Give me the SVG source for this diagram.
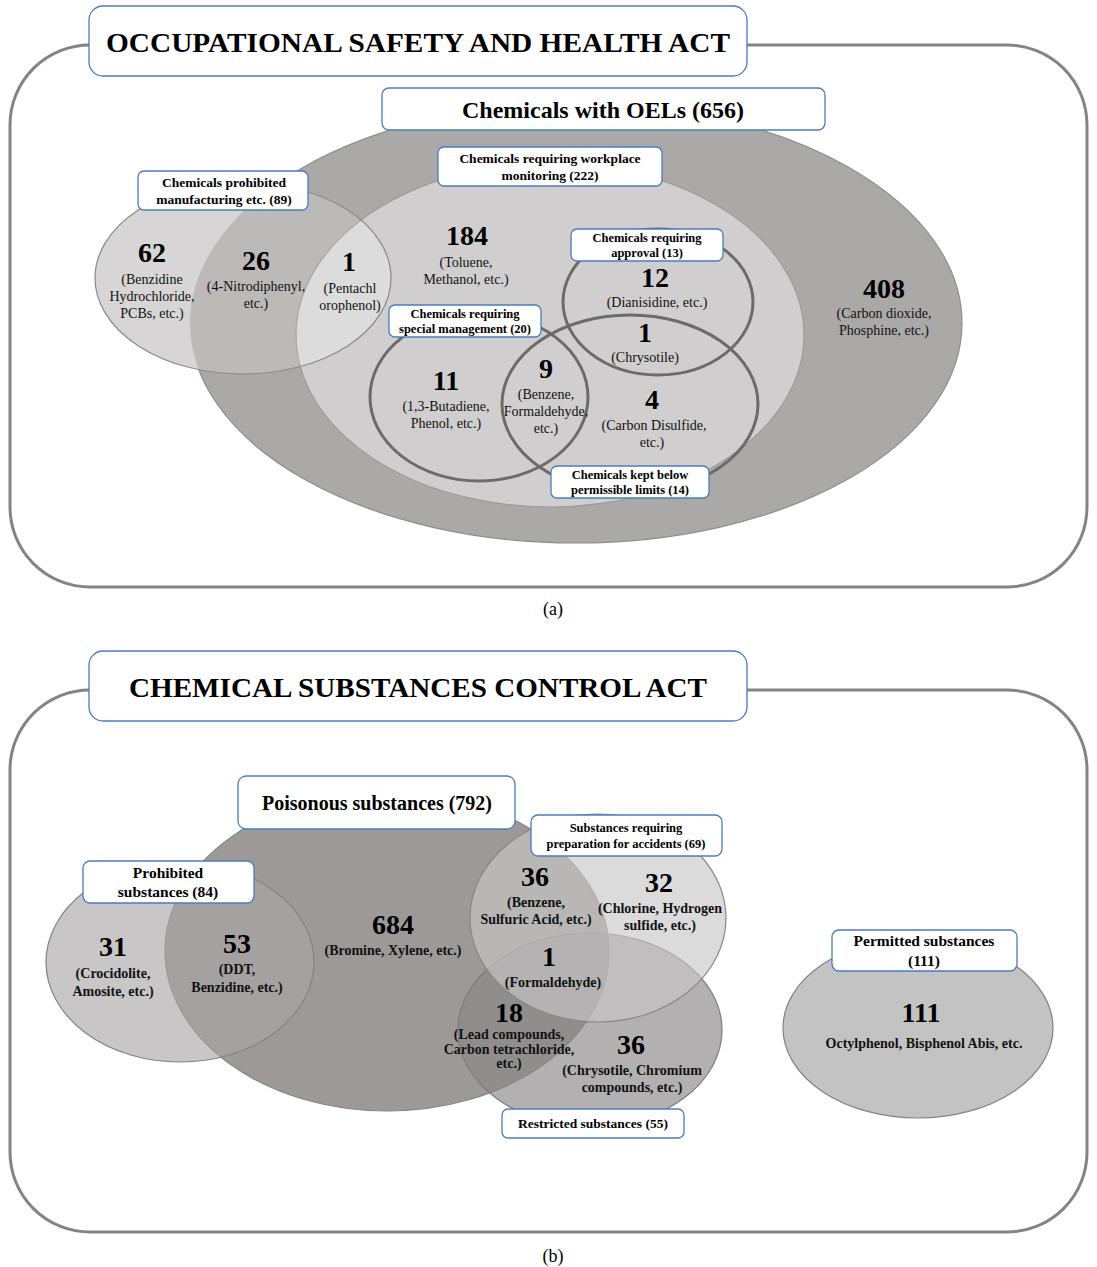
<svg xmlns="http://www.w3.org/2000/svg" width="1097" height="1267" viewBox="0 0 1097 1267">
<style>
.frame{fill:none;stroke:#858383;stroke-width:3}
.box{fill:#fff;stroke:#4a7ebb;stroke-width:1.3}
.ttl{font-family:"Liberation Serif",serif;font-weight:bold;fill:#000;text-anchor:middle}
.lbl{font-family:"Liberation Serif",serif;font-weight:bold;fill:#000;text-anchor:middle}
.num{font-family:"Liberation Serif",serif;font-weight:bold;font-size:28px;fill:#000;text-anchor:middle}
.txt{font-family:"Liberation Serif",serif;font-size:14px;fill:#111;text-anchor:middle}
.btxt{font-family:"Liberation Serif",serif;font-weight:bold;font-size:14px;fill:#111;text-anchor:middle}
.ring{fill:none;stroke:#6d6a6a;stroke-width:3}
.cap{font-family:"Liberation Serif",serif;font-size:18px;fill:#000;text-anchor:middle}
</style>
<defs>
<clipPath id="clipProhA"><ellipse cx="243" cy="278" rx="148" ry="96"/></clipPath>
</defs>

<!-- ===== Panel (a) ===== -->
<g id="panelA">
<rect id="frameA" class="frame" x="10" y="45" width="1077" height="542" rx="80" ry="80"/>
<g id="oels">
<ellipse cx="576" cy="323" rx="386" ry="220" fill="#aba8a8" stroke="#8f8c8c" stroke-width="1.2"/>
</g>
<g id="monitoring">
<ellipse cx="550" cy="335" rx="254" ry="172" fill="#d0cece" stroke="#9e9b9b" stroke-width="1.2"/>
</g>
<g id="prohibitedMfg">
<ellipse cx="243" cy="278" rx="148" ry="96" fill="#d7d5d5"/>
<g clip-path="url(#clipProhA)">
<ellipse cx="576" cy="323" rx="386" ry="220" fill="#bcb9b9"/>
<ellipse cx="550" cy="335" rx="254" ry="172" fill="#dddcdc" stroke="#a8a5a5" stroke-width="1.2"/>
</g>
<ellipse cx="243" cy="278" rx="148" ry="96" fill="none" stroke="#8c8989" stroke-width="1.2"/>
</g>
<g id="special"><ellipse class="ring" cx="479" cy="397" rx="109" ry="84"/></g>
<g id="approval"><ellipse class="ring" cx="658" cy="302" rx="95" ry="73"/></g>
<g id="limits"><ellipse class="ring" cx="630" cy="404" rx="128" ry="89"/></g>

<g id="titleA">
<rect class="box" x="89" y="6" width="658" height="70" rx="14"/>
<text class="ttl" x="418" y="52" font-size="28" textLength="624" lengthAdjust="spacingAndGlyphs">OCCUPATIONAL SAFETY AND HEALTH ACT</text>
</g>
<g id="labelOels">
<rect class="box" x="382" y="88" width="443" height="42" rx="7"/>
<text class="lbl" x="603" y="118" font-size="24">Chemicals with OELs (656)</text>
</g>
<g id="labelMonitoring">
<rect class="box" x="438" y="147" width="224" height="39" rx="6"/>
<text class="lbl" x="550" y="163" font-size="13.5">Chemicals requiring workplace</text>
<text class="lbl" x="550" y="180" font-size="13.5">monitoring (222)</text>
</g>
<g id="labelProhMfg">
<rect class="box" x="138" y="171" width="170" height="39" rx="6"/>
<text class="lbl" x="224" y="187" font-size="13.5">Chemicals prohibited</text>
<text class="lbl" x="224" y="204" font-size="13.5">manufacturing etc. (89)</text>
</g>
<g id="labelApproval">
<rect class="box" x="571" y="229" width="152" height="32" rx="6"/>
<text class="lbl" x="647" y="242" font-size="12.5">Chemicals requiring</text>
<text class="lbl" x="647" y="257" font-size="12.5">approval (13)</text>
</g>
<g id="labelSpecial">
<rect class="box" x="389" y="305" width="152" height="32" rx="6"/>
<text class="lbl" x="465" y="318" font-size="12.5">Chemicals requiring</text>
<text class="lbl" x="465" y="333" font-size="12.5">special management (20)</text>
</g>
<g id="labelLimits">
<rect class="box" x="551" y="466" width="158" height="32" rx="6"/>
<text class="lbl" x="630" y="479" font-size="12.5">Chemicals kept below</text>
<text class="lbl" x="630" y="494" font-size="12.5">permissible limits (14)</text>
</g>

<g id="countsA">
<text class="num" x="152" y="262">62</text>
<text class="txt" x="152" y="284">(Benzidine</text>
<text class="txt" x="152" y="301">Hydrochloride,</text>
<text class="txt" x="152" y="318">PCBs, etc.)</text>
<text class="num" x="256" y="270">26</text>
<text class="txt" x="256" y="291">(4-Nitrodiphenyl,</text>
<text class="txt" x="256" y="308">etc.)</text>
<text class="num" x="349" y="271">1</text>
<text class="txt" x="350" y="293">(Pentachl</text>
<text class="txt" x="350" y="310">orophenol)</text>
<text class="num" x="467" y="245">184</text>
<text class="txt" x="466" y="267">(Toluene,</text>
<text class="txt" x="466" y="284">Methanol, etc.)</text>
<text class="num" x="655" y="287">12</text>
<text class="txt" x="657" y="307">(Dianisidine, etc.)</text>
<text class="num" x="645" y="342">1</text>
<text class="txt" x="645" y="362">(Chrysotile)</text>
<text class="num" x="884" y="298">408</text>
<text class="txt" x="884" y="318">(Carbon dioxide,</text>
<text class="txt" x="884" y="335">Phosphine, etc.)</text>
<text class="num" x="446" y="390">11</text>
<text class="txt" x="446" y="411">(1,3-Butadiene,</text>
<text class="txt" x="446" y="428">Phenol, etc.)</text>
<text class="num" x="546" y="378">9</text>
<text class="txt" x="546" y="399">(Benzene,</text>
<text class="txt" x="546" y="416">Formaldehyde,</text>
<text class="txt" x="546" y="433">etc.)</text>
<text class="num" x="652" y="409">4</text>
<text class="txt" x="654" y="430">(Carbon Disulfide,</text>
<text class="txt" x="652" y="447">etc.)</text>
</g>
<text class="cap" x="553" y="615">(a)</text>
</g>

<!-- ===== Panel (b) ===== -->
<g id="panelB">
<rect id="frameB" class="frame" x="10" y="690" width="1077" height="542" rx="80" ry="80"/>
<g id="poisonous">
<ellipse cx="387" cy="951" rx="222" ry="160" fill="#9d9999" stroke="#858282" stroke-width="1.2"/>
</g>
<g id="prohibitedB">
<ellipse cx="180" cy="962" rx="134" ry="100" fill="#a9a6a6" fill-opacity="0.64" stroke="#858282" stroke-width="1.2"/>
</g>
<g id="restricted">
<ellipse cx="590" cy="1030" rx="132" ry="97" fill="#8a8787" fill-opacity="0.66" stroke="#7e7b7b" stroke-width="1.2"/>
</g>
<g id="accidents">
<ellipse cx="598" cy="918" rx="128" ry="104" fill="#c8c6c6" fill-opacity="0.64" stroke="#8a8787" stroke-width="1.2"/>
</g>
<g id="permitted">
<ellipse cx="918" cy="1028" rx="135" ry="90" fill="#c3c3c3" stroke="#858282" stroke-width="1.2"/>
</g>

<g id="titleB">
<rect class="box" x="89" y="651" width="658" height="70" rx="14"/>
<text class="ttl" x="418" y="697" font-size="28" textLength="578" lengthAdjust="spacingAndGlyphs">CHEMICAL SUBSTANCES CONTROL ACT</text>
</g>
<g id="labelPoisonous">
<rect class="box" x="238" y="776" width="277" height="53" rx="8"/>
<text class="lbl" x="377" y="810" font-size="20">Poisonous substances (792)</text>
</g>
<g id="labelProhB">
<rect class="box" x="83" y="861" width="171" height="42" rx="7"/>
<text class="lbl" x="168" y="878" font-size="15.5">Prohibited</text>
<text class="lbl" x="168" y="897" font-size="15.5">substances (84)</text>
</g>
<g id="labelAccidents">
<rect class="box" x="531" y="815" width="191" height="41" rx="7"/>
<text class="lbl" x="626" y="832" font-size="12.5">Substances requiring</text>
<text class="lbl" x="626" y="848" font-size="12.5">preparation for accidents (69)</text>
</g>
<g id="labelRestricted">
<rect class="box" x="502" y="1109" width="182" height="29" rx="6"/>
<text class="lbl" x="593" y="1128" font-size="13.5">Restricted substances (55)</text>
</g>
<g id="labelPermitted">
<rect class="box" x="832" y="930" width="185" height="41" rx="7"/>
<text class="lbl" x="924" y="946" font-size="15.5">Permitted substances</text>
<text class="lbl" x="924" y="966" font-size="15.5">(111)</text>
</g>

<g id="countsB">
<text class="num" x="113" y="956">31</text>
<text class="btxt" x="113" y="978" font-size="13.5">(Crocidolite,</text>
<text class="btxt" x="113" y="996" font-size="13.5">Amosite, etc.)</text>
<text class="num" x="237" y="953">53</text>
<text class="btxt" x="237" y="974" font-size="13.5">(DDT,</text>
<text class="btxt" x="237" y="992" font-size="13.5">Benzidine, etc.)</text>
<text class="num" x="393" y="934">684</text>
<text class="btxt" x="393" y="955">(Bromine, Xylene, etc.)</text>
<text class="num" x="535" y="886">36</text>
<text class="btxt" x="536" y="907">(Benzene,</text>
<text class="btxt" x="536" y="924">Sulfuric Acid, etc.)</text>
<text class="num" x="659" y="892">32</text>
<text class="btxt" x="660" y="913">(Chlorine, Hydrogen</text>
<text class="btxt" x="660" y="930">sulfide, etc.)</text>
<text class="num" x="549" y="966">1</text>
<text class="btxt" x="553" y="987">(Formaldehyde)</text>
<text class="num" x="509" y="1022">18</text>
<text class="btxt" x="509" y="1039" font-size="10.5">(Lead compounds,</text>
<text class="btxt" x="509" y="1054" font-size="10.5">Carbon tetrachloride,</text>
<text class="btxt" x="509" y="1068" font-size="10.5">etc.)</text>
<text class="num" x="631" y="1054">36</text>
<text class="btxt" x="632" y="1075">(Chrysotile, Chromium</text>
<text class="btxt" x="632" y="1092">compounds, etc.)</text>
<text class="num" x="921" y="1022">111</text>
<text class="btxt" x="924" y="1048">Octylphenol, Bisphenol Abis, etc.</text>
</g>
<text class="cap" x="553" y="1262">(b)</text>
</g>

<g id="connectors"/>
</svg>
